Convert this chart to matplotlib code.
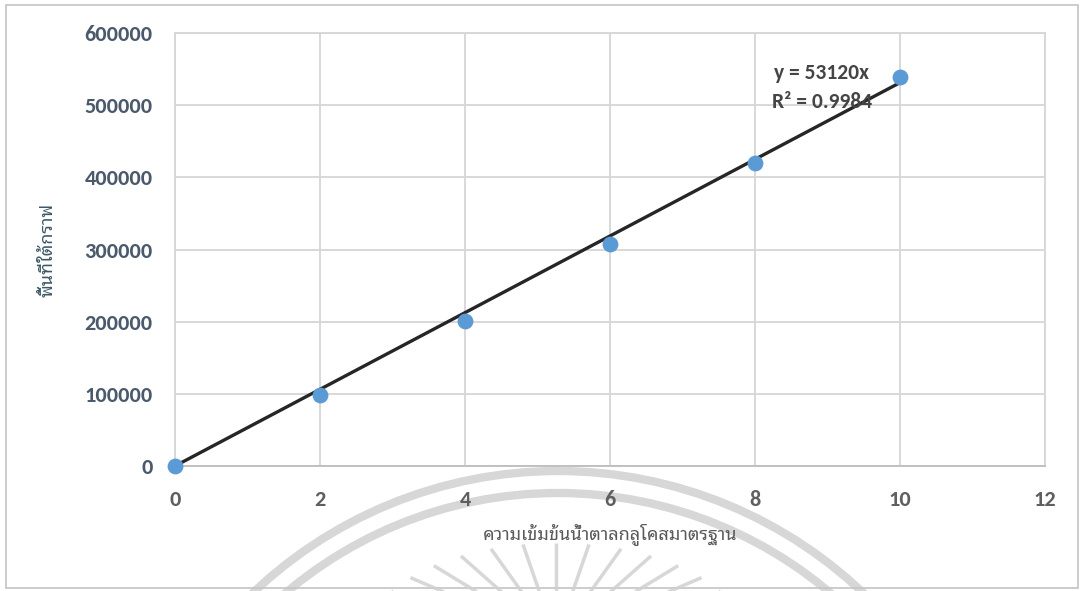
import matplotlib
matplotlib.use("Agg")
import matplotlib.pyplot as plt
import numpy as np
from matplotlib.patches import Rectangle, Arc

plt.rcParams['font.family'] = ['Carlito', 'Noto Sans Thai Looped', 'DejaVu Sans']

conc = [0, 2, 4, 6, 8, 10]
area = [0, 98400, 200900, 307600, 419900, 539000]
slope = 53120
eq_line1 = "y = 53120x"
eq_line2 = "R² = 0.9984"
xlabel = "ความเข้มข้นน้ำตาลกลูโคสมาตรฐาน"
ylabel = "พื้นที่ใต้กราฟ"
xticks = [0, 2, 4, 6, 8, 10, 12]
yticks = [0, 100000, 200000, 300000, 400000, 500000, 600000]

W, H = 1086, 591
fig = plt.figure(figsize=(W/100, H/100), dpi=100)
fig.patch.set_facecolor('white')

# faint scan watermark (decoration) in a full-figure pixel overlay
wm = fig.add_axes([0, 0, 1, 1], zorder=0)
wm.set_xlim(0, W)
wm.set_ylim(H, 0)
wm.axis('off')
for r in (443, 421):
    wm.add_patch(Arc((558, 914), 2*r, 2*r, theta1=180, theta2=360,
                     color='#d0d0d0', lw=6, alpha=0.85))
cx, cy = 556, 640
for t in np.linspace(20, 160, 15):
    a = np.deg2rad(t)
    px, py = cx + 190*np.cos(a), cy - 97*np.sin(a)
    dx, dy = cx - px, cy - py
    n = np.hypot(dx, dy)
    L = 70
    wm.plot([px, px + L*dx/n], [py, py + L*dy/n],
            color='#d0d0d0', lw=2.5, alpha=0.85, solid_capstyle='butt')
wm.add_patch(Rectangle((6, 5), 1072, 583, fill=False, edgecolor='#c4c4c4', lw=1.2))

ax = fig.add_axes([175/W, 1-466/H, 870/W, 433/H], zorder=1)
ax.set_facecolor('none')
ax.set_xlim(0, 12)
ax.set_ylim(0, 600000)
ax.set_xticks(xticks)
ax.set_yticks(yticks)
ax.grid(True, color='#d6d6d6', lw=1.3)
ax.set_axisbelow(True)
for s in ax.spines.values():
    s.set_color('#d6d6d6')
    s.set_linewidth(1.3)
ax.spines['bottom'].set_color('#bdbdbd')
ax.tick_params(length=0)
ax.tick_params(axis='y', labelsize=16, labelcolor='#4a5a6c', pad=16)
ax.tick_params(axis='x', labelsize=16, labelcolor='#5f5f5f', pad=17)
for lab in ax.get_xticklabels() + ax.get_yticklabels():
    lab.set_fontweight('bold')

xs = np.array([0, 10])
ax.plot(xs, slope*xs, color='#262626', lw=2.4, zorder=3, solid_capstyle='round')
ax.scatter(conc, area, s=130, color='#5b9bd5', zorder=4, clip_on=False,
           linewidths=0)

ax.text((822-175)/870, 1-(73-33)/433, eq_line1, transform=ax.transAxes,
        fontsize=15.5, color='#454545', ha='center', va='center', fontweight='bold')
ax.text((822-175)/870, 1-(102-33)/433, eq_line2, transform=ax.transAxes,
        fontsize=15.5, color='#454545', ha='center', va='center', fontweight='bold')

ax.set_xlabel(xlabel, fontsize=13, color='#595959', labelpad=10,
              family=['Noto Sans Thai Looped', 'DejaVu Sans'])
ax.set_ylabel(ylabel, fontsize=13, color='#3d5866', labelpad=20,
              family=['Noto Sans Thai Looped', 'DejaVu Sans'])

fig.savefig('out.png', dpi=100)
